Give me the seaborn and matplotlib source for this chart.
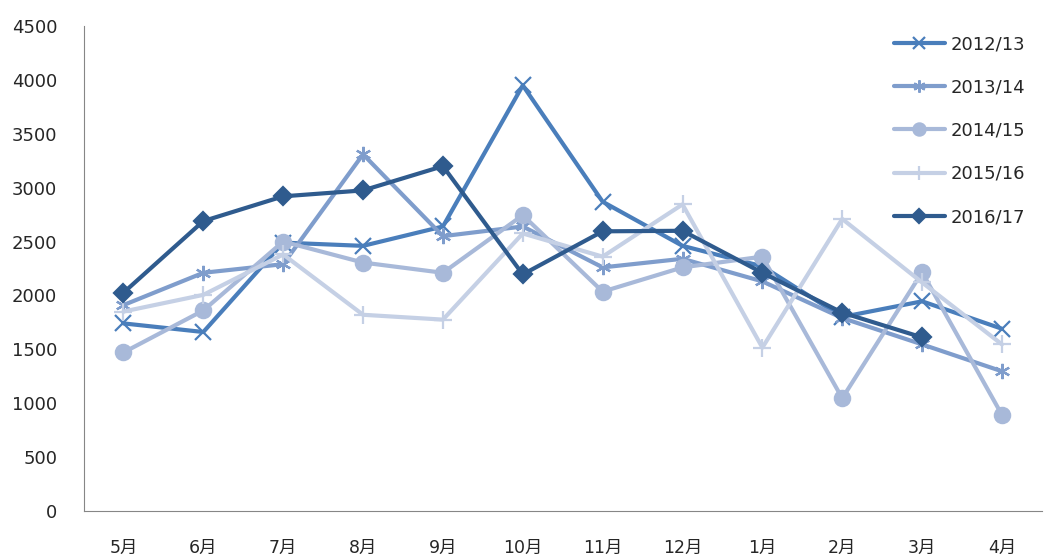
import matplotlib
matplotlib.use("Agg")
import matplotlib.pyplot as plt
import seaborn as sns
import pandas as pd
from matplotlib.ticker import FixedLocator

months = ["5月", "6月", "7月", "8月", "9月", "10月", "11月", "12月", "1月", "2月", "3月", "4月"]
seasons = ["2012/13", "2013/14", "2014/15", "2015/16", "2016/17"]

s2012 = [1740, 1660, 2490, 2460, 2640, 3950, 2870, 2460, 2270, 1800, 1945, 1690]
s2013 = [1910, 2210, 2290, 3310, 2550, 2640, 2260, 2340, 2130, 1790, 1545, 1295]
s2014 = [1470, 1860, 2500, 2305, 2210, 2745, 2035, 2260, 2360, 1045, 2215, 890]
s2015 = [1850, 2005, 2380, 1820, 1775, 2575, 2360, 2845, 1515, 2710, 2120, 1545]
s2016 = [2025, 2690, 2920, 2975, 3200, 2195, 2595, 2600, 2210, 1840, 1610, None]

series = [s2012, s2013, s2014, s2015, s2016]
colors = ["#4a7ebb", "#7f9dcc", "#a8b9d9", "#c5d0e5", "#2f5b8e"]
markers = ["x", (6, 2, 0), "o", "+", "D"]
msizes = [11, 11, 11, 13, 9]

rows = []
for name, vals in zip(seasons, series):
    for i, (m, v) in enumerate(zip(months, vals)):
        if v is not None:
            rows.append({"season": name, "idx": i, "month": m, "value": v})
df = pd.DataFrame(rows)

sns.set_style("white")
plt.rcParams["font.family"] = ["DejaVu Sans", "Noto Sans CJK SC"]

fig = plt.figure(figsize=(10.44, 5.57), dpi=100)
ax = fig.add_axes([0.080, 0.083, 0.918, 0.870])

for name, col, mk, ms in zip(seasons, colors, markers, msizes):
    sub = df[df["season"] == name]
    sns.lineplot(data=sub, x="idx", y="value", ax=ax, color=col, marker=mk,
                 markersize=ms, markeredgewidth=1.6, markeredgecolor=col,
                 linewidth=3.0, label=name, sort=False)

ax.set_xlim(-0.5, 11.5)
ax.set_ylim(0, 4500)
ax.set_yticks(range(0, 4501, 500))
ax.set_xticks(range(12))
ax.set_xticklabels(months, family=["DejaVu Sans", "Noto Sans CJK SC"], fontsize=12.5)
ax.xaxis.set_minor_locator(FixedLocator([i - 0.5 for i in range(13)]))
ax.tick_params(axis="x", which="major", length=0, pad=20)
ax.tick_params(axis="x", which="minor", length=7, width=0.8, color="#868686", direction="out")
ax.tick_params(axis="y", length=5, width=0.8, color="#868686", direction="out", labelsize=13, pad=14)
ax.set_xlabel("")
ax.set_ylabel("")

for side in ["top", "right"]:
    ax.spines[side].set_visible(False)
for side in ["left", "bottom"]:
    ax.spines[side].set_color("#868686")
    ax.spines[side].set_linewidth(0.8)

leg = ax.legend(loc="upper right", bbox_to_anchor=(1.0, 1.015), frameon=False,
                fontsize=13, handlelength=2.8, labelspacing=1.40, handletextpad=0.35,
                markerscale=0.8)

fig.savefig("out.png", dpi=100)
